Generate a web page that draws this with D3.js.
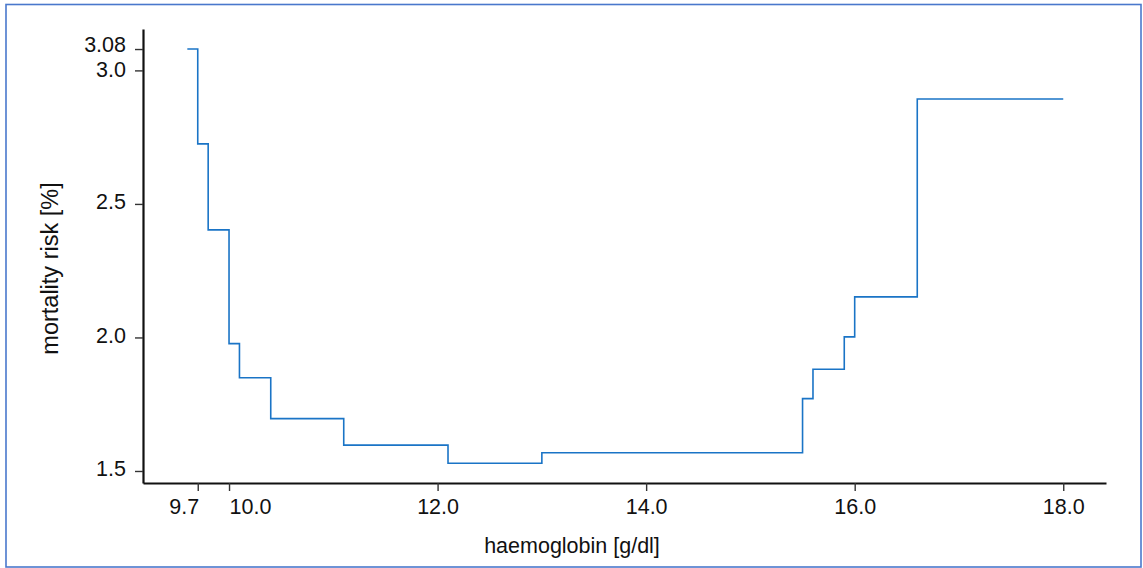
<!DOCTYPE html>
<html>
<head>
<meta charset="utf-8">
<script src="https://cdn.jsdelivr.net/npm/d3@7"></script>
<style>
  html, body { margin: 0; padding: 0; background: #fff; }
  svg { display: block; }
  text { font-family: "Liberation Sans", Arial, sans-serif; fill: #111; }
</style>
</head>
<body>
<svg id="chart" width="1143" height="568"></svg>
<script>
// Haemoglobin level (g/dl) at which each risk step begins
const haemoglobin = [9.6, 9.7, 9.8, 10.0, 10.1, 10.4, 11.1, 12.1, 13.0, 15.5, 15.6, 15.9, 16.0, 16.6, 18.0];
// Mortality risk (%) from that level onwards
const risk = [3.08, 2.725, 2.403, 1.977, 1.849, 1.696, 1.597, 1.529, 1.568, 1.771, 1.881, 2.002, 2.152, 2.893, 2.893];

const xTicks = [9.7, 10.0, 12.0, 14.0, 16.0, 18.0];
const yTicks = [1.5, 2.0, 2.5, 3.0, 3.08];
const yTickLabels = ["1.5", "2.0", "2.5", "3.0", "3.08"];

const svg = d3.select("#chart");

// outer frame
svg.append("rect")
  .attr("x", 6).attr("y", 4.5)
  .attr("width", 1135).attr("height", 562.5)
  .attr("fill", "none")
  .attr("stroke", "#4a78cc")
  .attr("stroke-width", 1.6);

const x = d3.scaleLinear().domain([9.175, 18.41]).range([143, 1106]);
const y = d3.scaleLinear().domain([1.455, 3.155]).range([483, 29]);

// x axis
const xAxis = svg.append("g")
  .attr("transform", `translate(0,${y(1.455)})`)
  .call(d3.axisBottom(x).tickValues(xTicks).tickFormat(d3.format(".1f"))
    .tickSize(8).tickSizeOuter(0).tickPadding(8));
xAxis.select(".domain").attr("stroke", "#111").attr("stroke-width", 2.2);
xAxis.selectAll(".tick line").attr("stroke", "#333").attr("stroke-width", 1.4);
xAxis.selectAll(".tick text")
  .attr("font-size", 21.5)
  .attr("font-family", "Liberation Sans, Arial, sans-serif")
  .attr("fill", "#111")
  // the two close ticks at the left push their labels apart
  .attr("text-anchor", d => d === 9.7 ? "end" : d === 10.0 ? "start" : "middle")
  .attr("x", d => d === 9.7 ? 1 : 0);

// y axis
const yAxis = svg.append("g")
  .attr("transform", `translate(${x(9.175)},0)`)
  .call(d3.axisLeft(y).tickValues(yTicks)
    .tickFormat((d, i) => yTickLabels[i])
    .tickSize(8).tickSizeOuter(0).tickPadding(9));
yAxis.select(".domain").attr("stroke", "#111").attr("stroke-width", 2.2);
yAxis.selectAll(".tick line").attr("stroke", "#333").attr("stroke-width", 1.4);
yAxis.selectAll(".tick text")
  .attr("font-size", 21.5)
  .attr("font-family", "Liberation Sans, Arial, sans-serif")
  .attr("dy", d => d === 3.08 ? "0.12em" : d === 3.0 ? "0.3em" : "0.22em")
  .attr("fill", "#111");

// risk step curve
const pts = haemoglobin.map((h, i) => [h, risk[i]]);
const line = d3.line()
  .x(d => x(d[0]))
  .y(d => y(d[1]))
  .curve(d3.curveStepAfter);
svg.append("path")
  .datum(pts)
  .attr("d", line)
  .attr("fill", "none")
  .attr("stroke", "#1a74c6")
  .attr("stroke-width", 1.6);

// axis titles
svg.append("text")
  .attr("x", 572).attr("y", 553)
  .attr("text-anchor", "middle")
  .attr("font-size", 21.5)
  .text("haemoglobin [g/dl]");

svg.append("text")
  .attr("transform", "translate(57.5,268.5) rotate(-90)")
  .attr("text-anchor", "middle")
  .attr("font-size", 23.5)
  .text("mortality risk [%]");
</script>
</body>
</html>
